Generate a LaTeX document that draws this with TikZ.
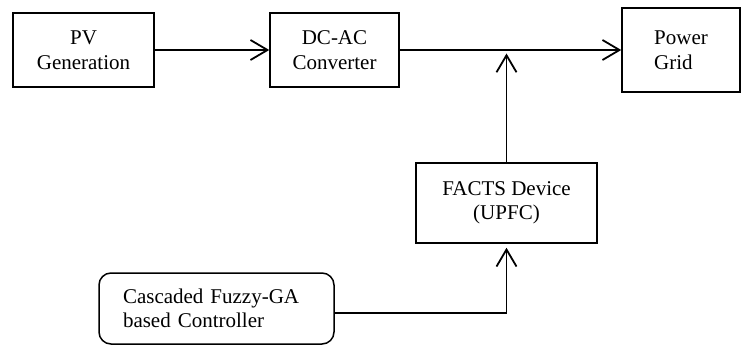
\documentclass[tikz,border=0pt]{standalone}
\usepackage{fontspec}
\setmainfont{Liberation Serif}
\usetikzlibrary{arrows.meta}
\begin{document}
\begin{tikzpicture}[x=1pt,y=-1pt,
  blk/.style={draw,line width=1.5pt,inner sep=0pt,font=\fontsize{21}{24.5}\selectfont,align=center},
  arr/.style={line width=1.8pt,-{Straight Barb[length=17pt,width=20pt,line width=1.8pt]}}]
\useasboundingbox (0,0) rectangle (741,345);
\node[blk,minimum width=141pt,minimum height=74pt] (pv) at (83.5,50) {PV\\Generation};
\node[blk,minimum width=129pt,minimum height=74pt] (dc) at (334.5,50) {DC-AC\\Converter};
\node[blk,align=left,minimum width=118pt,minimum height=84pt] (grid) at (681,50) {Power\\Grid};
\node[blk,minimum width=181pt,minimum height=80pt] (facts) at (506.5,203) {FACTS Device\\(UPFC)};
\node[blk,align=left,text width=187pt,rounded corners=12pt,minimum width=235pt,minimum height=71pt] (ctrl) at (216.5,308.5) {Cascaded Fuzzy-GA\\based Controller};
\draw[arr] (pv) -- (dc);
\draw[arr] (dc) -- (grid);
\draw[arr,shorten >=3.5pt] (facts.north) -- (facts.north |- dc.east);
\draw[arr,shorten >=4pt] ([yshift=-4.5pt]ctrl.east) -| (facts.south);
\end{tikzpicture}
\end{document}
